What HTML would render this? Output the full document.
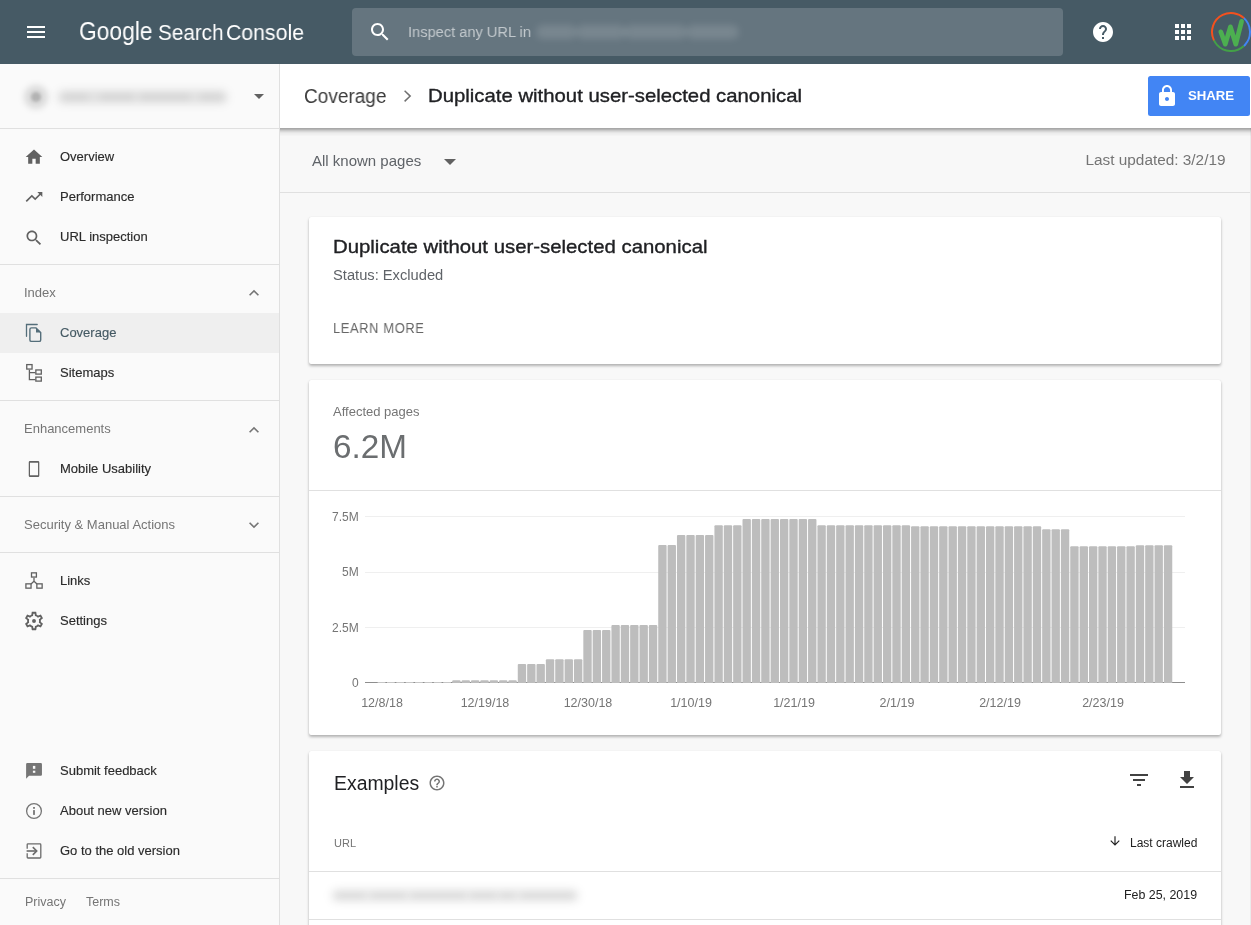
<!DOCTYPE html>
<html><head><meta charset="utf-8"><title>Search Console</title>
<style>
html,body{margin:0;padding:0;}
body{width:1251px;height:925px;overflow:hidden;position:relative;background:#f8f8f8;font-family:"Liberation Sans", sans-serif;}
.t{position:absolute;white-space:nowrap;will-change:transform;}
</style></head><body>
<div style="position:absolute;left:0px;top:0px;width:1251px;height:64px;background:#465a65;"></div>
<div style="position:absolute;left:0px;top:64px;width:279px;height:861px;background:#fafafa;"></div>
<div style="position:absolute;left:279px;top:64px;width:1px;height:861px;background:#e0e0e0;"></div>
<div style="position:absolute;left:280px;top:64px;width:971px;height:64px;background:#fff;z-index:2;"></div>
<div style="position:absolute;left:280px;top:128px;width:971px;height:1px;background:rgba(0,0,0,0.32);z-index:2;"></div>
<div style="position:absolute;left:280px;top:129px;width:971px;height:1px;background:rgba(0,0,0,0.27);z-index:2;"></div>
<div style="position:absolute;left:280px;top:130px;width:971px;height:1px;background:rgba(0,0,0,0.19);z-index:2;"></div>
<div style="position:absolute;left:280px;top:131px;width:971px;height:1px;background:rgba(0,0,0,0.13);z-index:2;"></div>
<div style="position:absolute;left:280px;top:132px;width:971px;height:1px;background:rgba(0,0,0,0.075);z-index:2;"></div>
<div style="position:absolute;left:280px;top:133px;width:971px;height:1px;background:rgba(0,0,0,0.045);z-index:2;"></div>
<div style="position:absolute;left:280px;top:134px;width:971px;height:1px;background:rgba(0,0,0,0.03);z-index:2;"></div>
<div style="position:absolute;left:280px;top:135px;width:971px;height:1px;background:rgba(0,0,0,0.015);z-index:2;"></div>
<div style="position:absolute;left:280px;top:192px;width:970px;height:1px;background:#e0e0e0;"></div>
<div style="position:absolute;left:1250px;top:128px;width:1px;height:797px;background:#ebebeb;"></div>
<svg style="position:absolute;left:24px;top:20px;" width="24" height="24" viewBox="0 0 24 24" fill="#fff"><path d="M3 18h18v-2H3v2zm0-5h18v-2H3v2zm0-7v2h18V6H3z"/></svg>
<div class="t" style="left:78.8px;top:19.41px;font-size:25.5px;line-height:25.5px;color:#fff;transform-origin:left center;transform:scaleX(0.8938);">Google</div>
<div class="t" style="left:157.8px;top:21.92px;font-size:21.6px;line-height:21.6px;color:#fff;transform-origin:left center;transform:scaleX(0.9573);">Search</div>
<div class="t" style="left:225.8px;top:21.92px;font-size:21.6px;line-height:21.6px;color:#fff;transform-origin:left center;transform:scaleX(0.9844);">Console</div>
<div style="position:absolute;left:352px;top:8px;width:711px;height:48px;background:rgba(255,255,255,0.17);border-radius:4px;"></div>
<svg style="position:absolute;left:368px;top:20px;" width="24" height="24" viewBox="0 0 24 24" fill="#fff"><path d="M15.5 14h-.79l-.28-.27C15.41 12.59 16 11.11 16 9.5 16 5.91 13.09 3 9.5 3S3 5.91 3 9.5 5.91 16 9.5 16c1.61 0 3.09-.59 4.23-1.57l.27.28v.79l5 4.99L20.49 19l-4.99-5zm-6 0C7.01 14 5 11.99 5 9.5S7.01 5 9.5 5 14 7.01 14 9.5 11.99 14 9.5 14z"/></svg>
<div class="t" style="left:408px;top:24.18px;font-size:15.5px;line-height:15.5px;color:rgba(255,255,255,0.6);transform-origin:left center;transform:scaleX(0.9433);">Inspect any URL in</div>
<div style="position:absolute;left:536px;top:25.0px;width:41px;height:14px;background:rgba(255,255,255,0.13);filter:blur(3.5px);border-radius:7.0px;"></div>
<div style="position:absolute;left:576px;top:25.0px;width:50px;height:14px;background:rgba(255,255,255,0.13);filter:blur(3.5px);border-radius:7.0px;"></div>
<div style="position:absolute;left:624px;top:25.0px;width:63px;height:14px;background:rgba(255,255,255,0.13);filter:blur(3.5px);border-radius:7.0px;"></div>
<div style="position:absolute;left:686px;top:25.0px;width:53px;height:14px;background:rgba(255,255,255,0.13);filter:blur(3.5px);border-radius:7.0px;"></div>
<svg style="position:absolute;left:1091px;top:20px;" width="24" height="24" viewBox="0 0 24 24" fill="#fff"><path d="M12 2C6.48 2 2 6.48 2 12s4.48 10 10 10 10-4.48 10-10S17.52 2 12 2zm1 17h-2v-2h2v2zm2.07-7.75l-.9.92C13.45 12.9 13 13.5 13 15h-2v-.5c0-1.1.45-2.1 1.17-2.83l1.24-1.26c.37-.36.59-.86.59-1.41 0-1.1-.9-2-2-2s-2 .9-2 2H8c0-2.21 1.79-4 4-4s4 1.79 4 4c0 .88-.36 1.68-.93 2.25z"/></svg>
<svg style="position:absolute;left:1171px;top:20px;" width="24" height="24" viewBox="0 0 24 24" fill="#fff"><path d="M4 8h4V4H4v4zm6 12h4v-4h-4v4zm-6 0h4v-4H4v4zm0-6h4v-4H4v4zm6 0h4v-4h-4v4zm6-10v4h4V4h-4zm-6 4h4V4h-4v4zm6 6h4v-4h-4v4zm0 6h4v-4h-4v4z"/></svg>
<svg style="position:absolute;left:1210px;top:11px" width="42" height="42" viewBox="0 0 42 42">
<g fill="none" stroke-width="2"><circle cx="21" cy="21" r="19" stroke="#4285f4" stroke-dasharray="31.67 119.38" transform="rotate(312 21 21)"/><circle cx="21" cy="21" r="19" stroke="#43a047" stroke-dasharray="35.32 119.38" transform="rotate(47.5 21 21)"/><circle cx="21" cy="21" r="19" stroke="#f4511e" stroke-dasharray="52.39 119.38" transform="rotate(154 21 21)"/></g>
<path d="M10.8 20.8 L15.3 33.2 L20.4 15.8 L25.8 33.2 L31.6 10.3" fill="none" stroke="#4caf50" stroke-width="4.7" stroke-linejoin="round" stroke-linecap="round"/>
</svg>
<div style="position:absolute;left:23.5px;top:84.8px;width:24px;height:24px;background:rgba(0,0,0,0.12);border-radius:50%;filter:blur(3px);"></div>
<div style="position:absolute;left:30.5px;top:91.8px;width:10px;height:10px;background:rgba(0,0,0,0.18);border-radius:50%;filter:blur(1.5px);"></div>
<div style="position:absolute;left:57px;top:89.5px;width:171px;height:14px;background:rgba(0,0,0,0.1);filter:blur(4px);border-radius:7.0px;"></div>
<div style="position:absolute;left:62px;top:92.5px;width:26px;height:8px;background:rgba(0,0,0,0.035);filter:blur(3px);border-radius:4.0px;"></div>
<div style="position:absolute;left:100px;top:92.5px;width:34px;height:8px;background:rgba(0,0,0,0.035);filter:blur(3px);border-radius:4.0px;"></div>
<div style="position:absolute;left:140px;top:92.5px;width:50px;height:8px;background:rgba(0,0,0,0.035);filter:blur(3px);border-radius:4.0px;"></div>
<div style="position:absolute;left:200px;top:92.5px;width:24px;height:8px;background:rgba(0,0,0,0.035);filter:blur(3px);border-radius:4.0px;"></div>
<svg style="position:absolute;left:247px;top:84px;" width="24" height="24" viewBox="0 0 24 24" fill="#616161"><path d="M7 10l5 5 5-5z"/></svg>
<div style="position:absolute;left:0px;top:128px;width:279px;height:1px;background:#e0e0e0;"></div>
<div style="position:absolute;left:0px;top:313px;width:279px;height:40px;background:#efefef;"></div>
<svg style="position:absolute;left:24.3px;top:147.2px;" width="20" height="20" viewBox="0 0 24 24" fill="#616161"><path d="M10 20v-6h4v6h5v-8h3L12 3 2 12h3v8z"/></svg>
<svg style="position:absolute;left:24.2px;top:187px;" width="20" height="20" viewBox="0 0 24 24" fill="#616161"><path d="M16 6l2.29 2.29-4.88 4.88-4-4L2 16.59 3.41 18l6-6 4 4 6.3-6.29L22 12V6z"/></svg>
<svg style="position:absolute;left:24px;top:227.5px;" width="20" height="20" viewBox="0 0 24 24" fill="#616161"><path d="M15.5 14h-.79l-.28-.27C15.41 12.59 16 11.11 16 9.5 16 5.91 13.09 3 9.5 3S3 5.91 3 9.5 5.91 16 9.5 16c1.61 0 3.09-.59 4.23-1.57l.27.28v.79l5 4.99L20.49 19l-4.99-5zm-6 0C7.01 14 5 11.99 5 9.5S7.01 5 9.5 5 14 7.01 14 9.5 11.99 14 9.5 14z"/></svg>
<svg style="position:absolute;left:22px;top:320px" width="24" height="26" viewBox="0 0 24 26" fill="#616161"><path d="M4.5 16.3V4.5H15.2" fill="none" stroke="#546e7a" stroke-width="1.3" stroke-linecap="round"/><path d="M7.9 9.4Q7.9 7.9 9.4 7.9H14L18.7 12.6V19.9Q18.7 21.4 17.2 21.4H9.4Q7.9 21.4 7.9 19.9Z" fill="none" stroke="#546e7a" stroke-width="1.4"/><path d="M14 7.9V12.6H18.7Z" fill="#546e7a"/></svg>
<svg style="position:absolute;left:22px;top:360px" width="24" height="26" viewBox="0 0 24 26" fill="#616161"><g fill="none" stroke="#616161" stroke-width="1.3"><rect x="4.75" y="4.6" width="5.3" height="4.45"/><rect x="13.85" y="9.95" width="5.45" height="4.15"/><rect x="13.85" y="17.1" width="5.45" height="4.0"/><path d="M7.4 9.7V19.6H13.3M7.4 12.55H13.3"/></g></svg>
<svg style="position:absolute;left:22px;top:456px" width="24" height="26" viewBox="0 0 24 26" fill="#616161"><path fill-rule="evenodd" d="M7.95 5.06H16.1Q17.3 5.06 17.3 6.26V19.7Q17.3 20.9 16.1 20.9H7.95Q6.75 20.9 6.75 19.7V6.26Q6.75 5.06 7.95 5.06ZM8.0 6.8V19.2H16.05V6.8Z"/></svg>
<svg style="position:absolute;left:22px;top:568px" width="24" height="26" viewBox="0 0 24 26" fill="#616161"><g fill="none" stroke="#616161" stroke-width="1.3"><rect x="9.5" y="4.85" width="4.9" height="4.2"/><rect x="3.9" y="15.85" width="5.15" height="4.3"/><rect x="14.85" y="15.85" width="5.3" height="4.3"/><path d="M12 9.7V13.2L9 15.9M12 13.2L15 15.9"/></g></svg>
<svg style="position:absolute;left:22.95px;top:609.8px;" width="22" height="22" viewBox="0 0 24 24" fill="#616161"><path fill-rule="evenodd" d="M19.43 12.98c.04-.32.07-.64.07-.98 0-.34-.03-.66-.07-.98l2.11-1.65c.19-.15.24-.42.12-.64l-2-3.46c-.09-.16-.26-.25-.44-.25-.06 0-.12.01-.17.03l-2.49 1c-.52-.4-1.080-.73-1.690-.98l-.38-2.65C14.46 2.18 14.25 2 14 2h-4c-.25 0-.46.18-.49.42l-.38 2.65c-.61.25-1.17.59-1.69.98l-2.49-1c-.06-.02-.12-.03-.18-.03-.17 0-.34.09-.43.25l-2 3.46c-.13.22-.07.49.12.64l2.11 1.65c-.04.32-.07.65-.07.98 0 .33.03.66.07.98l-2.11 1.65c-.19.15-.24.42-.12.64l2 3.460c.09.16.26.25.44.25.06 0 .12-.01.17-.03l2.49-1c.52.4 1.08.73 1.69.98l.38 2.65c.03.24.24.42.49.42h4c.25 0 .46-.18.49-.42l.38-2.65c.61-.25 1.17-.59 1.69-.98l2.49 1c.06.02.12.03.18.03.17 0 .34-.09.43-.25l2-3.46c.12-.22.07-.49-.12-.64l-2.11-1.65zm-1.98-1.71c.04.31.05.52.05.73 0 .21-.02.43-.05.73l-.14 1.13.89.7 1.08.84-.7 1.21-1.27-.51-1.04-.42-.9.68c-.43.32-.84.56-1.25.73l-1.06.43-.16 1.13-.2 1.35h-1.4l-.19-1.35-.16-1.13-1.06-.43c-.43-.18-.83-.41-1.230-.71l-.91-.7-1.06.43-1.27.51-.7-1.21 1.08-.84.89-.7-.14-1.13c-.03-.31-.05-.54-.05-.74s.02-.43.05-.73l.14-1.13-.89-.7-1.08-.84.7-1.21 1.27.51 1.04.42.9-.68c.43-.32.84-.56 1.25-.73l1.06-.43.16-1.13.2-1.35h1.39l.19 1.35.16 1.13 1.06.43c.43.18.83.41 1.23.71l.91.7 1.06-.43 1.27-.51.7 1.21-1.07.85-.89.7.14 1.13z"/><circle cx="12" cy="12" r="2.1"/></svg>
<svg style="position:absolute;left:22px;top:758px" width="24" height="26" viewBox="0 0 24 26" fill="#616161"><path d="M4.1 6.3Q4.1 5.06 5.3 5.06H18.8Q19.95 5.06 19.95 6.3V16.7Q19.95 17.85 18.8 17.85H7L4.1 20.8Z" fill="#757575"/><rect x="10.9" y="7.9" width="2.4" height="2.9" fill="#fafafa"/><rect x="10.9" y="12.7" width="2.4" height="2.1" fill="#fafafa"/></svg>
<svg style="position:absolute;left:22px;top:798px" width="24" height="26" viewBox="0 0 24 26" fill="#616161"><circle cx="12" cy="12.98" r="7.4" fill="none" stroke="#757575" stroke-width="1.3"/><rect x="11.1" y="9" width="1.8" height="1.8" fill="#757575"/><rect x="11.1" y="12.1" width="1.8" height="4.8" fill="#757575"/></svg>
<svg style="position:absolute;left:22px;top:838px" width="24" height="26" viewBox="0 0 24 26" fill="#616161"><g fill="none" stroke="#6b6b6b"><path d="M5.2 10.7V6.5Q5.2 5.9 6.0 5.9H18.0Q18.8 5.9 18.8 6.7V19.2Q18.8 20 18.0 20H6.0Q5.2 20 5.2 19.2V15.2" stroke-width="1.3"/><path d="M4.6 13H14.6" stroke-width="1.6"/><path d="M10.8 9.1L14.7 13L10.8 16.9" stroke-width="1.6"/></g></svg>
<div class="t" style="left:60px;top:149.50px;font-size:13px;line-height:13px;color:#2b2b2b;-webkit-text-stroke:0.15px #2b2b2b;">Overview</div>
<div class="t" style="left:60px;top:189.50px;font-size:13px;line-height:13px;color:#2b2b2b;-webkit-text-stroke:0.15px #2b2b2b;">Performance</div>
<div class="t" style="left:60px;top:229.50px;font-size:13px;line-height:13px;color:#2b2b2b;-webkit-text-stroke:0.15px #2b2b2b;">URL inspection</div>
<div style="position:absolute;left:0px;top:264px;width:279px;height:1px;background:#e0e0e0;"></div>
<div class="t" style="left:24px;top:286.00px;font-size:13px;line-height:13px;color:#757575;">Index</div>
<svg style="position:absolute;left:244px;top:283.2px;" width="20" height="20" viewBox="0 0 24 24" fill="#757575"><path d="M12 8l-6 6 1.41 1.41L12 10.83l4.59 4.58L18 14z"/></svg>
<div class="t" style="left:60px;top:325.50px;font-size:13px;line-height:13px;color:#455a64;-webkit-text-stroke:0.15px #455a64;">Coverage</div>
<div class="t" style="left:60px;top:365.50px;font-size:13px;line-height:13px;color:#2b2b2b;-webkit-text-stroke:0.15px #2b2b2b;">Sitemaps</div>
<div style="position:absolute;left:0px;top:400px;width:279px;height:1px;background:#e0e0e0;"></div>
<div class="t" style="left:24px;top:422.00px;font-size:13px;line-height:13px;color:#757575;">Enhancements</div>
<svg style="position:absolute;left:244px;top:420.1px;" width="20" height="20" viewBox="0 0 24 24" fill="#757575"><path d="M12 8l-6 6 1.41 1.41L12 10.83l4.59 4.58L18 14z"/></svg>
<div class="t" style="left:60px;top:461.50px;font-size:13px;line-height:13px;color:#2b2b2b;-webkit-text-stroke:0.15px #2b2b2b;">Mobile Usability</div>
<div style="position:absolute;left:0px;top:496px;width:279px;height:1px;background:#e0e0e0;"></div>
<div class="t" style="left:24px;top:518.00px;font-size:13px;line-height:13px;color:#757575;">Security &amp; Manual Actions</div>
<svg style="position:absolute;left:244px;top:514.6px;" width="20" height="20" viewBox="0 0 24 24" fill="#757575"><path d="M16.59 8.59L12 13.17 7.41 8.59 6 10l6 6 6-6z"/></svg>
<div style="position:absolute;left:0px;top:552px;width:279px;height:1px;background:#e0e0e0;"></div>
<div class="t" style="left:60px;top:573.50px;font-size:13px;line-height:13px;color:#2b2b2b;-webkit-text-stroke:0.15px #2b2b2b;">Links</div>
<div class="t" style="left:60px;top:613.50px;font-size:13px;line-height:13px;color:#2b2b2b;-webkit-text-stroke:0.15px #2b2b2b;">Settings</div>
<div class="t" style="left:60px;top:763.50px;font-size:13px;line-height:13px;color:#2b2b2b;-webkit-text-stroke:0.15px #2b2b2b;">Submit feedback</div>
<div class="t" style="left:60px;top:803.50px;font-size:13px;line-height:13px;color:#2b2b2b;-webkit-text-stroke:0.15px #2b2b2b;">About new version</div>
<div class="t" style="left:60px;top:843.50px;font-size:13px;line-height:13px;color:#2b2b2b;-webkit-text-stroke:0.15px #2b2b2b;">Go to the old version</div>
<div style="position:absolute;left:0px;top:878px;width:279px;height:1px;background:#e0e0e0;"></div>
<div class="t" style="left:24.5px;top:896.42px;font-size:12.5px;line-height:12.5px;color:#757575;">Privacy</div>
<div class="t" style="left:85.5px;top:896.42px;font-size:12.5px;line-height:12.5px;color:#757575;">Terms</div>
<div class="t" style="left:304px;top:86.79px;font-size:19.5px;line-height:19.5px;color:#3c3c3c;transform-origin:left center;transform:scaleX(0.9756);z-index:3;">Coverage</div>
<svg style="position:absolute;left:400px;top:86px;z-index:3" width="16" height="20" viewBox="400 86 16 20"><path d="M404.6 90.8L410.2 96.1L404.6 101.4" fill="none" stroke="#6f6f6f" stroke-width="1.45"/></svg>
<div class="t" style="left:428.3px;top:85.92px;font-size:19px;line-height:19px;color:#202124;transform-origin:left center;transform:scaleX(1.0698);z-index:3;-webkit-text-stroke:0.35px #202124;">Duplicate without user-selected canonical</div>
<div style="position:absolute;left:1148px;top:76px;width:102px;height:40px;background:#4285f4;border-radius:2.5px;z-index:3;"></div>
<svg style="position:absolute;left:1155px;top:84px;z-index:3;" width="24" height="24" viewBox="0 0 24 24" fill="#fff"><path d="M18 8h-1V6c0-2.76-2.24-5-5-5S7 3.24 7 6v2H6c-1.1 0-2 .9-2 2v10c0 1.1.9 2 2 2h12c1.1 0 2-.9 2-2V10c0-1.1-.9-2-2-2zm-6 9c-1.1 0-2-.9-2-2s.9-2 2-2 2 .9 2 2-.9 2-2 2zm3.1-9H8.9V6c0-1.71 1.39-3.1 3.1-3.1 1.71 0 3.1 1.39 3.1 3.1v2z"/></svg>
<div class="t" style="left:1188px;top:88.83px;font-size:13.2px;line-height:13.2px;color:#fff;font-weight:700;z-index:3;">SHARE</div>
<div class="t" style="left:312.4px;top:153.30px;font-size:15px;line-height:15px;color:#5f6368;">All known pages</div>
<svg style="position:absolute;left:438px;top:149px;" width="24" height="24" viewBox="0 0 24 24" fill="#616161"><path d="M6 10l6 6 6-6z"/></svg>
<div class="t" style="right:25.5px;top:152.13px;font-size:15.2px;line-height:15.2px;color:#757575;transform-origin:right center;transform:scaleX(1.0108);">Last updated: 3/2/19</div>
<div style="position:absolute;left:309px;top:217px;width:912px;height:147px;background:#fff;box-shadow:0 2px 3px rgba(0,0,0,0.28),0 0 1px rgba(0,0,0,0.12);border-radius:2px;"></div>
<div class="t" style="left:333.3px;top:236.92px;font-size:19px;line-height:19px;color:#202124;transform-origin:left center;transform:scaleX(1.0712);-webkit-text-stroke:0.35px #202124;">Duplicate without user-selected canonical</div>
<div class="t" style="left:333.3px;top:267.56px;font-size:14.7px;line-height:14.7px;color:#5f6368;">Status: Excluded</div>
<div class="t" style="left:333.2px;top:321.45px;font-size:14px;line-height:14px;color:#666666;letter-spacing:0.7px;transform-origin:left center;transform:scaleX(0.9189);">LEARN MORE</div>
<div style="position:absolute;left:309px;top:380px;width:912px;height:355px;background:#fff;box-shadow:0 2px 3px rgba(0,0,0,0.28),0 0 1px rgba(0,0,0,0.12);border-radius:2px;"></div>
<div class="t" style="left:333.3px;top:405.30px;font-size:13px;line-height:13px;color:#757575;">Affected pages</div>
<div class="t" style="left:332.5px;top:430.07px;font-size:33px;line-height:33px;color:#6b6e70;transform-origin:left center;transform:scaleX(1.0085);">6.2M</div>
<div style="position:absolute;left:309px;top:490px;width:912px;height:1px;background:#e0e0e0;"></div>
<div class="t" style="right:892.6px;top:510.84px;font-size:12px;line-height:12px;color:#757575;">7.5M</div>
<div class="t" style="right:892.6px;top:565.84px;font-size:12px;line-height:12px;color:#757575;">5M</div>
<div class="t" style="right:892.6px;top:621.54px;font-size:12px;line-height:12px;color:#757575;">2.5M</div>
<div class="t" style="right:892.6px;top:676.74px;font-size:12px;line-height:12px;color:#757575;">0</div>
<svg style="position:absolute;left:0;top:0" width="1251" height="925"><rect x="365" y="516.0" width="820" height="1" fill="#efefef"/><rect x="365" y="572.0" width="820" height="1" fill="#efefef"/><rect x="365" y="627.0" width="820" height="1" fill="#efefef"/><rect x="365" y="682" width="820" height="1" fill="#8e8e8e"/><rect x="377.62" y="682" width="7.76" height="1" fill="#c6c6c6"/><rect x="386.98" y="682" width="7.76" height="1" fill="#c6c6c6"/><rect x="396.35" y="682" width="7.76" height="1" fill="#c6c6c6"/><rect x="405.71" y="682" width="7.76" height="1" fill="#c6c6c6"/><rect x="415.07" y="682" width="7.76" height="1" fill="#c6c6c6"/><rect x="424.44" y="682" width="7.76" height="1" fill="#c6c6c6"/><rect x="433.80" y="682" width="7.76" height="1" fill="#c6c6c6"/><rect x="443.17" y="682" width="7.76" height="1" fill="#c6c6c6"/><path d="M452.23 683V681.3Q452.23 680.3 453.23 680.3H459.59Q460.59 680.3 460.59 681.3V683Z" fill="#bdbdbd"/><path d="M461.59 683V681.3Q461.59 680.3 462.59 680.3H468.96Q469.96 680.3 469.96 681.3V683Z" fill="#bdbdbd"/><path d="M470.96 683V681.3Q470.96 680.3 471.96 680.3H478.32Q479.32 680.3 479.32 681.3V683Z" fill="#bdbdbd"/><path d="M480.32 683V681.3Q480.32 680.3 481.32 680.3H487.69Q488.69 680.3 488.69 681.3V683Z" fill="#bdbdbd"/><path d="M489.69 683V681.3Q489.69 680.3 490.69 680.3H497.05Q498.05 680.3 498.05 681.3V683Z" fill="#bdbdbd"/><path d="M499.05 683V681.3Q499.05 680.3 500.05 680.3H506.41Q507.41 680.3 507.41 681.3V683Z" fill="#bdbdbd"/><path d="M508.41 683V681.3Q508.41 680.3 509.41 680.3H515.78Q516.78 680.3 516.78 681.3V683Z" fill="#bdbdbd"/><path d="M517.78 683V665.0Q517.78 664.0 518.78 664.0H525.14Q526.14 664.0 526.14 665.0V683Z" fill="#bdbdbd"/><path d="M527.14 683V665.0Q527.14 664.0 528.14 664.0H534.51Q535.51 664.0 535.51 665.0V683Z" fill="#bdbdbd"/><path d="M536.51 683V665.0Q536.51 664.0 537.51 664.0H543.87Q544.87 664.0 544.87 665.0V683Z" fill="#bdbdbd"/><path d="M545.87 683V660.2Q545.87 659.2 546.87 659.2H553.23Q554.23 659.2 554.23 660.2V683Z" fill="#bdbdbd"/><path d="M555.23 683V660.2Q555.23 659.2 556.23 659.2H562.60Q563.60 659.2 563.60 660.2V683Z" fill="#bdbdbd"/><path d="M564.60 683V660.2Q564.60 659.2 565.60 659.2H571.96Q572.96 659.2 572.96 660.2V683Z" fill="#bdbdbd"/><path d="M573.96 683V660.2Q573.96 659.2 574.96 659.2H581.33Q582.33 659.2 582.33 660.2V683Z" fill="#bdbdbd"/><path d="M583.33 683V631.1Q583.33 630.1 584.33 630.1H590.69Q591.69 630.1 591.69 631.1V683Z" fill="#bdbdbd"/><path d="M592.69 683V631.1Q592.69 630.1 593.69 630.1H600.05Q601.05 630.1 601.05 631.1V683Z" fill="#bdbdbd"/><path d="M602.05 683V631.1Q602.05 630.1 603.05 630.1H609.42Q610.42 630.1 610.42 631.1V683Z" fill="#bdbdbd"/><path d="M611.42 683V626.1Q611.42 625.1 612.42 625.1H618.78Q619.78 625.1 619.78 626.1V683Z" fill="#bdbdbd"/><path d="M620.78 683V626.1Q620.78 625.1 621.78 625.1H628.15Q629.15 625.1 629.15 626.1V683Z" fill="#bdbdbd"/><path d="M630.15 683V626.1Q630.15 625.1 631.15 625.1H637.51Q638.51 625.1 638.51 626.1V683Z" fill="#bdbdbd"/><path d="M639.51 683V626.1Q639.51 625.1 640.51 625.1H646.87Q647.87 625.1 647.87 626.1V683Z" fill="#bdbdbd"/><path d="M648.87 683V626.1Q648.87 625.1 649.87 625.1H656.24Q657.24 625.1 657.24 626.1V683Z" fill="#bdbdbd"/><path d="M658.24 683V546.1Q658.24 545.1 659.24 545.1H665.60Q666.60 545.1 666.60 546.1V683Z" fill="#bdbdbd"/><path d="M667.60 683V546.1Q667.60 545.1 668.60 545.1H674.97Q675.97 545.1 675.97 546.1V683Z" fill="#bdbdbd"/><path d="M676.97 683V536.1Q676.97 535.1 677.97 535.1H684.33Q685.33 535.1 685.33 536.1V683Z" fill="#bdbdbd"/><path d="M686.33 683V536.1Q686.33 535.1 687.33 535.1H693.69Q694.69 535.1 694.69 536.1V683Z" fill="#bdbdbd"/><path d="M695.69 683V536.1Q695.69 535.1 696.69 535.1H703.06Q704.06 535.1 704.06 536.1V683Z" fill="#bdbdbd"/><path d="M705.06 683V536.1Q705.06 535.1 706.06 535.1H712.42Q713.42 535.1 713.42 536.1V683Z" fill="#bdbdbd"/><path d="M714.42 683V526.2Q714.42 525.2 715.42 525.2H721.79Q722.79 525.2 722.79 526.2V683Z" fill="#bdbdbd"/><path d="M723.79 683V526.2Q723.79 525.2 724.79 525.2H731.15Q732.15 525.2 732.15 526.2V683Z" fill="#bdbdbd"/><path d="M733.15 683V526.2Q733.15 525.2 734.15 525.2H740.51Q741.51 525.2 741.51 526.2V683Z" fill="#bdbdbd"/><path d="M742.51 683V520.1Q742.51 519.1 743.51 519.1H749.88Q750.88 519.1 750.88 520.1V683Z" fill="#bdbdbd"/><path d="M751.88 683V520.1Q751.88 519.1 752.88 519.1H759.24Q760.24 519.1 760.24 520.1V683Z" fill="#bdbdbd"/><path d="M761.24 683V520.1Q761.24 519.1 762.24 519.1H768.61Q769.61 519.1 769.61 520.1V683Z" fill="#bdbdbd"/><path d="M770.61 683V520.1Q770.61 519.1 771.61 519.1H777.97Q778.97 519.1 778.97 520.1V683Z" fill="#bdbdbd"/><path d="M779.97 683V520.1Q779.97 519.1 780.97 519.1H787.33Q788.33 519.1 788.33 520.1V683Z" fill="#bdbdbd"/><path d="M789.33 683V520.1Q789.33 519.1 790.33 519.1H796.70Q797.70 519.1 797.70 520.1V683Z" fill="#bdbdbd"/><path d="M798.70 683V520.1Q798.70 519.1 799.70 519.1H806.06Q807.06 519.1 807.06 520.1V683Z" fill="#bdbdbd"/><path d="M808.06 683V520.1Q808.06 519.1 809.06 519.1H815.43Q816.43 519.1 816.43 520.1V683Z" fill="#bdbdbd"/><path d="M817.43 683V526.2Q817.43 525.2 818.43 525.2H824.79Q825.79 525.2 825.79 526.2V683Z" fill="#bdbdbd"/><path d="M826.79 683V526.2Q826.79 525.2 827.79 525.2H834.15Q835.15 525.2 835.15 526.2V683Z" fill="#bdbdbd"/><path d="M836.15 683V526.2Q836.15 525.2 837.15 525.2H843.52Q844.52 525.2 844.52 526.2V683Z" fill="#bdbdbd"/><path d="M845.52 683V526.2Q845.52 525.2 846.52 525.2H852.88Q853.88 525.2 853.88 526.2V683Z" fill="#bdbdbd"/><path d="M854.88 683V526.2Q854.88 525.2 855.88 525.2H862.25Q863.25 525.2 863.25 526.2V683Z" fill="#bdbdbd"/><path d="M864.25 683V526.2Q864.25 525.2 865.25 525.2H871.61Q872.61 525.2 872.61 526.2V683Z" fill="#bdbdbd"/><path d="M873.61 683V526.2Q873.61 525.2 874.61 525.2H880.97Q881.97 525.2 881.97 526.2V683Z" fill="#bdbdbd"/><path d="M882.97 683V526.2Q882.97 525.2 883.97 525.2H890.34Q891.34 525.2 891.34 526.2V683Z" fill="#bdbdbd"/><path d="M892.34 683V526.2Q892.34 525.2 893.34 525.2H899.70Q900.70 525.2 900.70 526.2V683Z" fill="#bdbdbd"/><path d="M901.70 683V526.2Q901.70 525.2 902.70 525.2H909.07Q910.07 525.2 910.07 526.2V683Z" fill="#bdbdbd"/><path d="M911.07 683V527.2Q911.07 526.2 912.07 526.2H918.43Q919.43 526.2 919.43 527.2V683Z" fill="#bdbdbd"/><path d="M920.43 683V527.2Q920.43 526.2 921.43 526.2H927.79Q928.79 526.2 928.79 527.2V683Z" fill="#bdbdbd"/><path d="M929.79 683V527.2Q929.79 526.2 930.79 526.2H937.16Q938.16 526.2 938.16 527.2V683Z" fill="#bdbdbd"/><path d="M939.16 683V527.2Q939.16 526.2 940.16 526.2H946.52Q947.52 526.2 947.52 527.2V683Z" fill="#bdbdbd"/><path d="M948.52 683V527.2Q948.52 526.2 949.52 526.2H955.89Q956.89 526.2 956.89 527.2V683Z" fill="#bdbdbd"/><path d="M957.89 683V527.2Q957.89 526.2 958.89 526.2H965.25Q966.25 526.2 966.25 527.2V683Z" fill="#bdbdbd"/><path d="M967.25 683V527.2Q967.25 526.2 968.25 526.2H974.61Q975.61 526.2 975.61 527.2V683Z" fill="#bdbdbd"/><path d="M976.61 683V527.2Q976.61 526.2 977.61 526.2H983.98Q984.98 526.2 984.98 527.2V683Z" fill="#bdbdbd"/><path d="M985.98 683V527.2Q985.98 526.2 986.98 526.2H993.34Q994.34 526.2 994.34 527.2V683Z" fill="#bdbdbd"/><path d="M995.34 683V527.2Q995.34 526.2 996.34 526.2H1002.71Q1003.71 526.2 1003.71 527.2V683Z" fill="#bdbdbd"/><path d="M1004.71 683V527.2Q1004.71 526.2 1005.71 526.2H1012.07Q1013.07 526.2 1013.07 527.2V683Z" fill="#bdbdbd"/><path d="M1014.07 683V527.2Q1014.07 526.2 1015.07 526.2H1021.43Q1022.43 526.2 1022.43 527.2V683Z" fill="#bdbdbd"/><path d="M1023.43 683V527.2Q1023.43 526.2 1024.43 526.2H1030.80Q1031.80 526.2 1031.80 527.2V683Z" fill="#bdbdbd"/><path d="M1032.80 683V527.2Q1032.80 526.2 1033.80 526.2H1040.16Q1041.16 526.2 1041.16 527.2V683Z" fill="#bdbdbd"/><path d="M1042.16 683V530.3Q1042.16 529.3 1043.16 529.3H1049.53Q1050.53 529.3 1050.53 530.3V683Z" fill="#bdbdbd"/><path d="M1051.53 683V530.3Q1051.53 529.3 1052.53 529.3H1058.89Q1059.89 529.3 1059.89 530.3V683Z" fill="#bdbdbd"/><path d="M1060.89 683V530.3Q1060.89 529.3 1061.89 529.3H1068.25Q1069.25 529.3 1069.25 530.3V683Z" fill="#bdbdbd"/><path d="M1070.25 683V547.3Q1070.25 546.3 1071.25 546.3H1077.62Q1078.62 546.3 1078.62 547.3V683Z" fill="#bdbdbd"/><path d="M1079.62 683V547.3Q1079.62 546.3 1080.62 546.3H1086.98Q1087.98 546.3 1087.98 547.3V683Z" fill="#bdbdbd"/><path d="M1088.98 683V547.3Q1088.98 546.3 1089.98 546.3H1096.35Q1097.35 546.3 1097.35 547.3V683Z" fill="#bdbdbd"/><path d="M1098.35 683V547.3Q1098.35 546.3 1099.35 546.3H1105.71Q1106.71 546.3 1106.71 547.3V683Z" fill="#bdbdbd"/><path d="M1107.71 683V547.3Q1107.71 546.3 1108.71 546.3H1115.07Q1116.07 546.3 1116.07 547.3V683Z" fill="#bdbdbd"/><path d="M1117.07 683V547.3Q1117.07 546.3 1118.07 546.3H1124.44Q1125.44 546.3 1125.44 547.3V683Z" fill="#bdbdbd"/><path d="M1126.44 683V547.3Q1126.44 546.3 1127.44 546.3H1133.80Q1134.80 546.3 1134.80 547.3V683Z" fill="#bdbdbd"/><path d="M1135.80 683V546.2Q1135.80 545.2 1136.80 545.2H1143.17Q1144.17 545.2 1144.17 546.2V683Z" fill="#bdbdbd"/><path d="M1145.17 683V546.2Q1145.17 545.2 1146.17 545.2H1152.53Q1153.53 545.2 1153.53 546.2V683Z" fill="#bdbdbd"/><path d="M1154.53 683V546.2Q1154.53 545.2 1155.53 545.2H1161.89Q1162.89 545.2 1162.89 546.2V683Z" fill="#bdbdbd"/><path d="M1163.89 683V546.2Q1163.89 545.2 1164.89 545.2H1171.26Q1172.26 545.2 1172.26 546.2V683Z" fill="#bdbdbd"/></svg>
<div class="t" style="left:322.0px;top:697.32px;font-size:12.5px;line-height:12.5px;color:#757575;width:120px;text-align:center;">12/8/18</div>
<div class="t" style="left:425.004px;top:697.32px;font-size:12.5px;line-height:12.5px;color:#757575;width:120px;text-align:center;">12/19/18</div>
<div class="t" style="left:528.008px;top:697.32px;font-size:12.5px;line-height:12.5px;color:#757575;width:120px;text-align:center;">12/30/18</div>
<div class="t" style="left:631.012px;top:697.32px;font-size:12.5px;line-height:12.5px;color:#757575;width:120px;text-align:center;">1/10/19</div>
<div class="t" style="left:734.0160000000001px;top:697.32px;font-size:12.5px;line-height:12.5px;color:#757575;width:120px;text-align:center;">1/21/19</div>
<div class="t" style="left:837.0200000000001px;top:697.32px;font-size:12.5px;line-height:12.5px;color:#757575;width:120px;text-align:center;">2/1/19</div>
<div class="t" style="left:940.024px;top:697.32px;font-size:12.5px;line-height:12.5px;color:#757575;width:120px;text-align:center;">2/12/19</div>
<div class="t" style="left:1043.028px;top:697.32px;font-size:12.5px;line-height:12.5px;color:#757575;width:120px;text-align:center;">2/23/19</div>
<div style="position:absolute;left:309px;top:751px;width:912px;height:200px;background:#fff;box-shadow:0 2px 3px rgba(0,0,0,0.28),0 0 1px rgba(0,0,0,0.12);border-radius:2px;"></div>
<div class="t" style="left:334px;top:773.58px;font-size:19.4px;line-height:19.4px;color:#202124;">Examples</div>
<svg style="position:absolute;left:428px;top:774px;" width="18" height="18" viewBox="0 0 24 24" fill="#757575"><path d="M11 18h2v-2h-2v2zm1-16C6.48 2 2 6.48 2 12s4.48 10 10 10 10-4.48 10-10S17.52 2 12 2zm0 18c-4.41 0-8-3.59-8-8s3.59-8 8-8 8 3.59 8 8-3.59 8-8 8zm0-14c-2.21 0-4 1.79-4 4h2c0-1.1.9-2 2-2s2 .9 2 2c0 2-3 1.75-3 5h2c0-2.25 3-2.5 3-5 0-2.21-1.79-4-4-4z"/></svg>
<svg style="position:absolute;left:1127px;top:767.5px;" width="24" height="24" viewBox="0 0 24 24" fill="#424242"><path d="M10 18h4v-2h-4v2zM3 6v2h18V6H3zm3 7h12v-2H6v2z"/></svg>
<svg style="position:absolute;left:1175px;top:768px;" width="24" height="24" viewBox="0 0 24 24" fill="#424242"><path d="M19 9h-4V3H9v6H5l7 7 7-7zM5 18v2h14v-2H5z"/></svg>
<div class="t" style="left:333.6px;top:837.59px;font-size:11px;line-height:11px;color:#757575;">URL</div>
<svg style="position:absolute;left:1108px;top:834px;" width="14" height="14" viewBox="0 0 24 24" fill="#212121"><path d="M20 12l-1.41-1.41L13 16.17V4h-2v12.17l-5.58-5.59L4 12l8 8 8-8z"/></svg>
<div class="t" style="right:54px;top:836.84px;font-size:12px;line-height:12px;color:#212121;">Last crawled</div>
<div style="position:absolute;left:309px;top:871px;width:912px;height:1px;background:#e0e0e0;"></div>
<div style="position:absolute;left:331px;top:888.5px;width:248px;height:13px;background:rgba(0,0,0,0.1);filter:blur(4.2px);border-radius:6.5px;"></div>
<div style="position:absolute;left:336px;top:891.5px;width:28px;height:7px;background:rgba(0,0,0,0.03);filter:blur(3px);border-radius:3.5px;"></div>
<div style="position:absolute;left:372px;top:891.5px;width:33px;height:7px;background:rgba(0,0,0,0.03);filter:blur(3px);border-radius:3.5px;"></div>
<div style="position:absolute;left:412px;top:891.5px;width:53px;height:7px;background:rgba(0,0,0,0.03);filter:blur(3px);border-radius:3.5px;"></div>
<div style="position:absolute;left:471px;top:891.5px;width:25px;height:7px;background:rgba(0,0,0,0.03);filter:blur(3px);border-radius:3.5px;"></div>
<div style="position:absolute;left:500px;top:891.5px;width:14px;height:7px;background:rgba(0,0,0,0.03);filter:blur(3px);border-radius:3.5px;"></div>
<div style="position:absolute;left:522px;top:891.5px;width:52px;height:7px;background:rgba(0,0,0,0.03);filter:blur(3px);border-radius:3.5px;"></div>
<div class="t" style="right:54px;top:888.50px;font-size:12.4px;line-height:12.4px;color:#212121;">Feb 25, 2019</div>
<div style="position:absolute;left:309px;top:919px;width:912px;height:1px;background:#e0e0e0;"></div>
</body></html>
